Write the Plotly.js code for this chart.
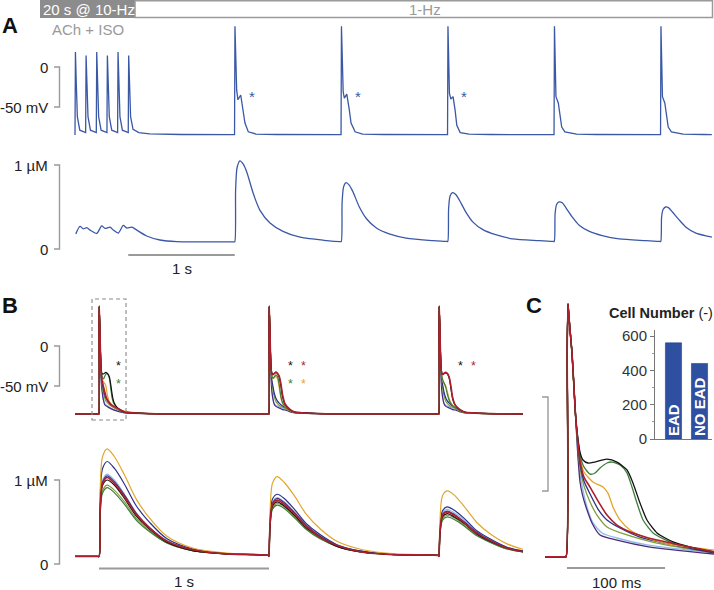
<!DOCTYPE html>
<html><head><meta charset="utf-8">
<script src="https://cdn.plot.ly/plotly-3.0.1.min.js"></script>
<style>html,body{margin:0;padding:0;background:#fff;}#chart{width:714px;height:590px;}</style>
</head><body><div id="chart"></div>
<script>
// ================= DATA =================
// Panel A: membrane voltage (mV) vs time (s)
const aVoltT = [0.000,0.004,0.012,0.022,0.045,0.090,0.100,0.104,0.112,0.122,0.145,0.190,0.200,0.204,0.212,0.222,0.245,0.290,0.300,0.304,0.312,0.322,0.345,0.390,0.400,0.404,0.412,0.422,0.445,0.490,0.500,0.504,0.512,0.522,0.545,0.600,0.700,0.850,1.000,
  1.498,1.502,1.518,1.530,1.556,1.580,1.596,1.627,1.700,1.900,
  2.498,2.502,2.518,2.529,2.552,2.576,2.592,2.630,2.700,2.900,
  3.498,3.502,3.516,3.529,3.550,3.569,3.585,3.617,3.700,3.900,
  4.498,4.502,4.516,4.538,4.554,4.570,4.600,4.710,4.900,
  5.498,5.502,5.516,5.538,5.554,5.570,5.600,5.710,5.900,5.980];
const aVolt = [-85,18.6,-20,-62,-79,-82,-82,14.4,-22,-62,-79,-82,-82,18.6,-20,-62,-79,-82,-82,14.4,-22,-62,-79,-82,-82,18.6,-20,-62,-79,-82,-82,14.4,-22,-62,-78,-82,-83.5,-84.2,-84.4,
  -84.5,51,-29,-41,-35,-54,-70,-81,-83.8,-84.4,
  -84.5,51,-31,-39,-34,-54,-70,-81,-83.8,-84.4,
  -84.5,51,-33,-40,-37,-54,-73,-82,-83.8,-84.4,
  -84.5,51,-37,-45,-62,-75,-81,-84,-84.4,
  -84.5,51,-37,-45,-62,-75,-81,-84,-84.4,-84.5];
// Panel A: Ca (uM) vs time (s)
const aCaT = [0.007,0.047,0.078,0.110,0.141,0.204,0.251,0.282,0.329,0.360,0.407,0.454,0.486,0.533,0.580,0.673,0.798,0.955,1.200,
  1.490,1.500,1.508,1.522,1.549,1.580,1.612,1.674,1.737,1.831,1.953,2.113,2.363,
  2.490,2.500,2.508,2.522,2.545,2.575,2.610,2.670,2.737,2.830,2.950,3.110,3.360,
  3.490,3.500,3.508,3.522,3.545,3.575,3.610,3.670,3.737,3.830,3.950,4.110,4.360,
  4.490,4.500,4.508,4.522,4.545,4.575,4.610,4.670,4.737,4.830,4.950,5.110,5.360,
  5.490,5.500,5.508,5.522,5.545,5.575,5.610,5.670,5.737,5.830,5.950,5.980];
const aCa = [0.18,0.27,0.24,0.255,0.225,0.185,0.275,0.245,0.26,0.225,0.19,0.28,0.25,0.26,0.225,0.155,0.107,0.087,0.085,
  0.085,0.085,0.70,0.97,1.05,1.01,0.92,0.66,0.46,0.31,0.21,0.14,0.10,
  0.088,0.088,0.55,0.74,0.79,0.76,0.68,0.50,0.36,0.25,0.18,0.13,0.10,
  0.09,0.09,0.48,0.63,0.67,0.65,0.58,0.44,0.32,0.23,0.17,0.12,0.10,
  0.09,0.09,0.42,0.53,0.56,0.55,0.49,0.38,0.28,0.21,0.16,0.12,0.10,
  0.09,0.09,0.38,0.47,0.50,0.49,0.44,0.35,0.26,0.19,0.15,0.14];
const aBeatStars = [1.662, 2.657, 3.653];

// Panels B & C: eight model cells (drawing order)
const cellNames  = ['lightblue','purple','olive','navy','yellow','green','black','red'];
const cellColors = ['#8fbbe6','#4a2a7e','#7f9c3f','#2b3189','#e2a62b','#3e7e3b','#111111','#ad1f2d'];
// AP common upstroke (ms, mV)
const apSharedT = [-22.4,-3.0,-1.0,0.2,1.0,1.8,3.1,5.1,7.1,8.7];
const apSharedV = [-85,-85,-85,25,49.5,44,35.6,23.4,5.3,-9.6];
// Beat 1 repolarisation tails (ms, mV) - also panel C
const beat1TailT = [
  [10.7,13.3,16.3,20.4,26.5,35.7,51.0,81.6,150],
  [10.7,13.3,15.8,19.4,25.5,33.7,51.0,84.7,150],
  [10.7,13.3,17.3,23.5,30.6,40.8,61.2,91.8,150],
  [10.7,13.3,17.3,23.5,31.6,40.8,54.1,74.5,108.2,150],
  [10.7,13.3,17.3,26.5,36.7,41.8,46.9,54.1,64.3,81.6,108.2,150],
  [10.7,13.3,17.3,23.5,28.6,33.7,40.8,45.9,54.1,61.2,66.3,71.4,77.6,87.8,108.2,150],
  [10.7,13.3,16.3,21.4,28.6,40.8,51.0,61.2,67.3,74.5,81.6,91.8,108.2,125.5,150],
  [10.7,13.3,17.3,23.5,31.6,40.8,51.0,67.3,91.8,125.5,150]];
const beat1TailV = [
  [-26.1,-41.5,-49.5,-58.5,-67.0,-72.3,-75.0,-78.7,-83.0],
  [-28.2,-45.2,-52.1,-58.5,-67.0,-73.4,-76.1,-79.8,-83.5],
  [-23.9,-37.8,-47.3,-55.9,-62.8,-69.1,-73.4,-77.7,-83.0],
  [-22.9,-35.6,-44.7,-51.6,-59.6,-65.4,-69.7,-74.5,-78.7,-83.0],
  [-21.3,-32.4,-39.9,-45.2,-47.9,-51.1,-58.5,-65.4,-70.7,-75.0,-78.7,-81.4],
  [-20.7,-30.9,-37.2,-41.0,-40.4,-37.8,-35.1,-34.6,-36.2,-40.4,-47.9,-56.4,-65.4,-72.3,-77.7,-82.4],
  [-20.2,-29.3,-33.5,-35.1,-34.6,-33.0,-34.6,-38.8,-45.7,-56.4,-65.4,-72.3,-77.1,-79.8,-82.4],
  [-21.8,-34.0,-42.6,-47.9,-55.3,-62.8,-68.1,-72.3,-76.1,-79.8,-82.4]];
// Beats 2 and 3 tails on a common time grid (ms)
const tailT = [10.7,13.3,17,23,30,40,50,60,70,80,95,120,150];
const beat2TailV = [
  [-26.1,-41.5,-54,-65,-71.5,-74,-75,-76,-77,-78,-79,-81.5,-83],
  [-28.2,-45.2,-57,-66.5,-72.5,-75.5,-76.5,-77.5,-78.5,-79.5,-80,-82,-83.5],
  [-23.9,-37.8,-46,-54.5,-62.5,-69,-72,-74,-75.5,-76.5,-78,-81,-83],
  [-22.9,-35.6,-43,-50,-58,-65,-69,-71.5,-73.5,-75,-77,-80,-83],
  [-21.3,-32.4,-38,-41,-40,-38,-41,-52,-65,-72,-76.5,-80,-83],
  [-20.7,-30.9,-37,-40.5,-39,-36,-38,-48,-63,-71,-76,-80,-83],
  [-20.2,-29.3,-33.5,-35.1,-34.6,-33.0,-34.6,-38.8,-50,-64,-73.5,-79,-82.4],
  [-21,-31,-35,-36,-34.5,-32.5,-34,-37.5,-47,-61,-72.5,-78.5,-82.4]];
const beat3TailV = [
  [-26.1,-41.5,-54,-65,-71.5,-74,-75,-76,-77,-78,-79,-81.5,-83],
  [-28.2,-45.2,-57,-66.5,-72.5,-75.5,-76.5,-77.5,-78.5,-79.5,-80,-82,-83.5],
  [-23.9,-37.8,-46,-54.5,-62.5,-69,-72,-74,-75.5,-76.5,-78,-81,-83],
  [-22.9,-35.6,-43,-50,-58,-65,-69,-71.5,-73.5,-75,-77,-80,-83],
  [-21.3,-32.4,-38,-44,-47,-50,-58,-66,-71,-74,-77,-80.5,-83],
  [-20.7,-30.9,-38,-43,-46,-52,-61,-68,-72,-74.5,-77,-80.5,-83],
  [-20.2,-29.3,-33.5,-35.5,-34.5,-33.5,-35,-40,-53,-66,-74,-79,-82.5],
  [-21,-31,-35,-35.5,-34,-33,-34.5,-39,-50,-64,-73.5,-79,-82.5]];
const restT = [300,600];
const restV = [-84.5,-85];
const beatOnsets = [0,1000,2000];
const bStartT = [-141,-10];
// Ca transients (uM) per beat on a common grid (ms after upstroke)
const caRelT = [0,6,20,48,90,150,220,300,400,550,750,999];
const caBeat1 = [
  [0.09,0.63,0.99,1.07,1.00,0.83,0.61,0.43,0.28,0.17,0.12,0.10],
  [0.09,0.62,0.97,1.05,0.98,0.82,0.60,0.43,0.27,0.17,0.12,0.10],
  [0.09,0.56,0.87,0.94,0.88,0.74,0.54,0.39,0.25,0.16,0.12,0.10],
  [0.09,0.71,1.13,1.22,1.14,0.95,0.69,0.49,0.30,0.18,0.12,0.10],
  [0.09,0.79,1.27,1.37,1.28,1.06,0.77,0.54,0.33,0.19,0.13,0.10],
  [0.09,0.54,0.84,0.91,0.85,0.71,0.52,0.38,0.25,0.16,0.12,0.10],
  [0.09,0.59,0.93,1.00,0.94,0.78,0.57,0.41,0.26,0.16,0.12,0.10],
  [0.09,0.61,0.95,1.03,0.96,0.80,0.59,0.42,0.27,0.17,0.12,0.10]];
const caBeat2 = [
  [0.09,0.48,0.73,0.79,0.74,0.62,0.46,0.34,0.22,0.15,0.11,0.10],
  [0.09,0.47,0.72,0.78,0.73,0.61,0.46,0.33,0.22,0.15,0.11,0.10],
  [0.09,0.44,0.67,0.72,0.68,0.57,0.42,0.31,0.21,0.14,0.11,0.10],
  [0.09,0.50,0.77,0.83,0.78,0.65,0.48,0.35,0.23,0.15,0.11,0.10],
  [0.09,0.61,0.96,1.04,0.97,0.81,0.59,0.42,0.27,0.17,0.12,0.10],
  [0.09,0.43,0.65,0.70,0.66,0.55,0.41,0.30,0.21,0.14,0.11,0.10],
  [0.09,0.45,0.69,0.74,0.69,0.58,0.43,0.32,0.21,0.14,0.11,0.10],
  [0.09,0.46,0.71,0.76,0.71,0.60,0.45,0.32,0.22,0.14,0.11,0.10]];
const caBeat3 = [
  [0.09,0.40,0.61,0.65,0.61,0.52,0.39,0.29,0.20,0.14,0.11,0.10],
  [0.09,0.39,0.59,0.63,0.59,0.50,0.38,0.28,0.19,0.13,0.11,0.10],
  [0.09,0.36,0.54,0.58,0.55,0.46,0.35,0.26,0.18,0.13,0.11,0.10],
  [0.09,0.41,0.63,0.68,0.64,0.54,0.40,0.30,0.20,0.14,0.11,0.10],
  [0.09,0.52,0.81,0.87,0.82,0.68,0.50,0.36,0.24,0.15,0.11,0.10],
  [0.09,0.35,0.52,0.56,0.53,0.45,0.34,0.26,0.18,0.13,0.11,0.10],
  [0.09,0.37,0.56,0.60,0.56,0.48,0.36,0.27,0.19,0.13,0.11,0.10],
  [0.09,0.38,0.58,0.62,0.58,0.49,0.37,0.28,0.19,0.13,0.11,0.10]];
// EAD asterisks in B: [time ms, row(0 upper,1 lower), colour index]
const bStarT = [112,112,1124,1200,1124,1200,2124,2200];
const bStarRow = [0,1,0,0,1,1,0,0];
const bStarCell = [6,5,6,7,5,4,6,7];
// Inset bar chart
const barCats = ['EAD','NO EAD'];
const barVals = [560,440];

// ================= BUILD =================
const W = 714, H = 590;
const FONT = 'Liberation Sans, Arial, sans-serif';
const xd = (a,b)=>[a/W,b/W];
const yd = (top,bot)=>[1-bot/H,1-top/H];
const px = x=>x/W, py = y=>1-y/H;

const traces = [];
traces.push({x:aVoltT,y:aVolt,xaxis:'x',yaxis:'y',mode:'lines',line:{color:'#3a58a6',width:1.3}});
traces.push({x:aCaT,y:aCa,xaxis:'x',yaxis:'y2',mode:'lines',line:{color:'#3a58a6',width:1.3,shape:'spline',smoothing:0.7}});

function apBeat(tT, tV, onset, tx, ty){
  apSharedT.forEach((t,k)=>{tx.push(t+onset);ty.push(apSharedV[k]);});
  tT.forEach((t,k)=>{tx.push(t+onset);ty.push(tV[k]);});
  restT.forEach((t,k)=>{tx.push(t+onset);ty.push(restV[k]);});
}
cellNames.forEach((n,i)=>{
  const w = (n==='red')?1.6:1.2;
  const tx=[bStartT[0]], ty=[-85];
  apBeat(beat1TailT[i], beat1TailV[i], beatOnsets[0], tx, ty);
  apBeat(tailT, beat2TailV[i], beatOnsets[1], tx, ty);
  apBeat(tailT, beat3TailV[i], beatOnsets[2], tx, ty);
  traces.push({x:tx,y:ty,xaxis:'x2',yaxis:'y3',mode:'lines',line:{color:cellColors[i],width:w,shape:'spline',smoothing:0.6}});
  const cx=bStartT.slice(), cy=[0.09,0.09];
  [caBeat1,caBeat2,caBeat3].forEach((arr,b)=>{
    caRelT.forEach((t,k)=>{cx.push(t+beatOnsets[b]);cy.push(arr[i][k]);});
  });
  traces.push({x:cx,y:cy,xaxis:'x2',yaxis:'y4',mode:'lines',line:{color:cellColors[i],width:w,shape:'spline',smoothing:0.8}});
  const zx=apSharedT.concat(beat1TailT[i]), zy=apSharedV.concat(beat1TailV[i]);
  traces.push({x:zx,y:zy,xaxis:'x3',yaxis:'y5',mode:'lines',line:{color:cellColors[i],width:(n==='red')?1.6:1.3,shape:'spline',smoothing:0.6}});
});
traces.push({type:'bar',x:barCats,y:barVals,xaxis:'x4',yaxis:'y6',width:0.62,
  marker:{color:'#2f4fa0',line:{color:'#22408a',width:0.6}},
  text:barCats,textposition:'inside',insidetextanchor:'start',textangle:-90,constraintext:'none',
  textfont:{color:'#ffffff',size:15,family:FONT,weight:'bold'}});

const hid = {visible:false,showgrid:false,zeroline:false,fixedrange:true};
const layout = {
  width:W,height:H,margin:{l:0,r:0,t:0,b:0},paper_bgcolor:'#fff',plot_bgcolor:'rgba(0,0,0,0)',
  showlegend:false,hovermode:false,
  xaxis:Object.assign({},hid,{domain:[0,1],range:[-75/106.5,639/106.5],anchor:'y'}),
  yaxis:Object.assign({},hid,{domain:yd(20,140),range:[(67-140)/0.8,(67-20)/0.8],anchor:'x'}),
  yaxis2:Object.assign({},hid,{domain:yd(148,275),range:[(249-275)/84,(249-148)/84],anchor:'x'}),
  xaxis2:Object.assign({},hid,{domain:xd(0,523),range:[(0-99)/0.17,(523-99)/0.17],anchor:'y3'}),
  yaxis3:Object.assign({},hid,{domain:yd(292,425),range:[(346-425)/0.8,(346-292)/0.8],anchor:'x2'}),
  yaxis4:Object.assign({},hid,{domain:yd(438,590),range:[(564-590)/84,(564-438)/84],anchor:'x2'}),
  xaxis3:Object.assign({},hid,{domain:xd(538,714),range:[(538-567)/0.98,(714-567)/0.98],anchor:'y5'}),
  yaxis5:Object.assign({},hid,{domain:yd(292,590),range:[(397-590)/1.88,(397-292)/1.88],anchor:'x3'}),
  xaxis4:{domain:xd(655,712),range:[-0.71,1.48],type:'category',anchor:'y6',showline:true,linecolor:'#777',linewidth:1,
    showticklabels:false,ticks:'',showgrid:false,zeroline:false,fixedrange:true},
  yaxis6:{domain:yd(330,439),range:[0,(439-330)/(103/600)],anchor:'x4',showline:true,linecolor:'#777',linewidth:1,
    ticks:'outside',ticklen:4,tickcolor:'#777',tickvals:[0,200,400,600],showgrid:false,zeroline:false,
    tickfont:{family:FONT,size:15,color:'#333'},minor:{ticks:'outside',ticklen:2,tickcolor:'#999',dtick:100},fixedrange:true},
  shapes:[], annotations:[]
};
const S = layout.shapes, A = layout.annotations;
const grey = '#9a9a9a';
S.push({type:'rect',xref:'paper',yref:'paper',x0:px(40),x1:px(135),y0:py(0),y1:py(18),fillcolor:'#8c8c8c',line:{width:0}});
S.push({type:'rect',xref:'paper',yref:'paper',x0:px(135),x1:px(712.5),y0:py(0.8),y1:py(17.5),fillcolor:'#fff',line:{color:grey,width:1.5}});
function bracket(xr,yr,xTick,xBar,v0,v1){
  S.push({type:'path',xref:xr,yref:yr,path:`M ${xTick},${v0} L ${xBar},${v0} L ${xBar},${v1} L ${xTick},${v1}`,line:{color:grey,width:1.4}});
}
bracket('x','y',(54-75)/106.5,(59.5-75)/106.5,0,-50);
bracket('x','y2',(54-75)/106.5,(59.5-75)/106.5,1,0);
bracket('x2','y3',(54-99)/0.17,(59.5-99)/0.17,0,-50);
bracket('x2','y4',(54-99)/0.17,(59.5-99)/0.17,1,0);
bracket('x3','y5',(542-567)/0.98,(548-567)/0.98,0,-50);
S.push({type:'line',xref:'x',yref:'y2',x0:0.5,x1:1.5,y0:(249-255)/84,y1:(249-255)/84,line:{color:grey,width:2}});
S.push({type:'line',xref:'x2',yref:'y4',x0:0,x1:1000,y0:(564-568.5)/84,y1:(564-568.5)/84,line:{color:grey,width:2}});
S.push({type:'line',xref:'x3',yref:'y5',x0:0,x1:100,y0:(397-568)/1.88,y1:(397-568)/1.88,line:{color:grey,width:2}});
S.push({type:'rect',xref:'x2',yref:'y3',x0:-41,x1:159,y0:(346-420)/0.8,y1:(346-299)/0.8,line:{color:'#8a8a8a',width:1.1,dash:'4px,3px'}});

function txt(text,xr,yr,x,y,opt){
  A.push(Object.assign({text:text,xref:xr,yref:yr,x:x,y:y,showarrow:false,xanchor:'center',yanchor:'middle',
    font:{family:FONT,size:15,color:'#222'}},opt||{}));
}
txt('<b>A</b>','paper','paper',px(10),py(26),{font:{family:FONT,size:22,color:'#111'}});
txt('<b>B</b>','paper','paper',px(10),py(305),{font:{family:FONT,size:22,color:'#111'}});
txt('<b>C</b>','paper','paper',px(534),py(305),{font:{family:FONT,size:22,color:'#111'}});
txt('20 s @ 10-Hz','paper','paper',px(88.5),py(9.5),{font:{family:FONT,size:15,color:'#ffffff'}});
txt('1-Hz','paper','paper',px(425),py(9.5),{font:{family:FONT,size:15,color:'#9a9a9a'}});
txt('ACh + ISO','paper','paper',px(88),py(30),{font:{family:FONT,size:15,color:'#9a9a9a'}});
txt('<b>Cell Number</b> (-)','paper','paper',px(661),py(313),{font:{family:FONT,size:14.5,color:'#222'}});
const lx = {x:(50-75)/106.5, x2:(50-99)/0.17};
txt('0','x','y',lx.x,0,{xanchor:'right'});
txt('-50 mV','x','y',lx.x,-50,{xanchor:'right'});
txt('1 µM','x','y2',lx.x,1,{xanchor:'right'});
txt('0','x','y2',lx.x,0,{xanchor:'right'});
txt('1 s','x','y2',1.0,(249-268)/84);
txt('0','x2','y3',lx.x2,0,{xanchor:'right'});
txt('-50 mV','x2','y3',lx.x2,-50,{xanchor:'right'});
txt('1 µM','x2','y4',lx.x2,1,{xanchor:'right'});
txt('0','x2','y4',lx.x2,0,{xanchor:'right'});
txt('1 s','x2','y4',500,(564-581)/84);
txt('100 ms','x3','y5',50,(397-582)/1.88);
aBeatStars.forEach(t=>txt('*','x','y',t,(67-96)/0.8,{font:{family:FONT,size:15,color:'#3a58a6'}}));
// B asterisks: upper row sits on a boundary line, lower row hangs below it
const starBoundary = (346-375)/0.8;
bStarT.forEach((t,k)=>{
  const up = bStarRow[k]===0;
  txt('*','x2','y3',t,starBoundary,{yanchor:up?'bottom':'top',borderpad:0,yshift:up?0.6:-0.6,
    font:{family:FONT,size:12.5,color:cellColors[bStarCell[k]]}});
});

Plotly.newPlot('chart',traces,layout,{staticPlot:true,displayModeBar:false});
</script></body></html>
